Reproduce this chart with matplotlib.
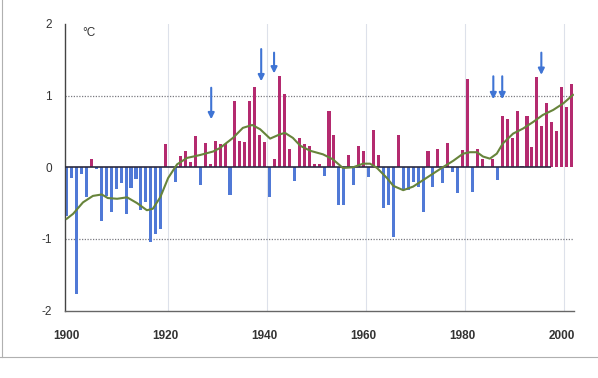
import matplotlib
matplotlib.use("Agg")
import matplotlib.pyplot as plt
from matplotlib.lines import Line2D

plt.rcParams['font.family'] = ['Liberation Sans', 'DejaVu Sans']

# ---- data -------------------------------------------------------------
years = list(range(1900, 2003))
anomaly = [
    -0.68, -0.15, -1.77, -0.10, -0.41, 0.12, -0.03, -0.75, -0.40, -0.63,
    -0.31, -0.22, -0.65, -0.29, -0.17, -0.60, -0.48, -1.05, -0.93, -0.86,
    0.33, 0.00, -0.20, 0.16, 0.22, 0.08, 0.43, -0.25, 0.34, 0.05,
    0.37, 0.32, 0.33, -0.39, 0.93, 0.37, 0.35, 0.92, 1.12, 0.45,
    0.35, -0.42, 0.12, 1.28, 1.02, 0.26, -0.19, 0.41, 0.33, 0.30,
    0.05, 0.05, -0.12, 0.79, 0.45, -0.53, -0.53, 0.17, -0.25, 0.30,
    0.23, -0.13, 0.52, 0.17, -0.57, -0.53, -0.97, 0.45, -0.32, -0.32,
    -0.20, -0.27, -0.63, 0.23, -0.27, 0.26, -0.22, 0.34, -0.06, -0.36,
    0.24, 1.23, -0.34, 0.25, 0.11, 0.00, 0.11, -0.18, 0.71, 0.67,
    0.41, 0.78, 0.02, 0.71, 0.28, 1.26, 0.58, 0.90, 0.63, 0.50,
    1.12, 0.84, 1.16,
]

trend_years = [1900, 1901.3, 1903.3, 1905.3, 1907.1, 1908.3, 1910.2, 1912.2,
               1914.2, 1916.2, 1917.4, 1918.9, 1920.5, 1922.3, 1924.3, 1926.9,
               1929.6, 1931.0, 1933.6, 1935.6, 1937.5, 1939.1, 1941.1, 1943.1,
               1944.1, 1945.7, 1947.2, 1949.2, 1951.8, 1953.8, 1955.8, 1957.9,
               1959.9, 1961.3, 1962.7, 1964.7, 1966.0, 1968.0, 1970.0, 1972.0,
               1974.0, 1976.0, 1978.1, 1980.1, 1981.5, 1982.9, 1984.1, 1985.5,
               1986.9, 1988.1, 1990.2, 1992.2, 1994.2, 1996.2, 1998.3, 2000.3,
               2002.3]
trend_vals = [-0.72, -0.65, -0.49, -0.40, -0.38, -0.43, -0.44, -0.42,
              -0.50, -0.60, -0.58, -0.42, -0.15, 0.04, 0.13, 0.17,
              0.22, 0.27, 0.41, 0.55, 0.59, 0.53, 0.40, 0.46,
              0.48, 0.41, 0.30, 0.23, 0.18, 0.11, -0.01, 0.00,
              0.05, 0.05, -0.01, -0.15, -0.26, -0.32, -0.27, -0.18,
              -0.09, 0.00, 0.09, 0.19, 0.21, 0.21, 0.15, 0.12,
              0.19, 0.33, 0.47, 0.54, 0.63, 0.73, 0.80, 0.89,
              1.01]

arrow_years = [1929.2, 1939.3, 1941.9, 1986.2, 1988.0, 1995.9]
arrow_top = [1.11, 1.65, 1.60, 1.27, 1.27, 1.60]
arrow_tip = [0.67, 1.20, 1.31, 0.95, 0.95, 1.29]

xtick_years = [1900, 1920, 1940, 1960, 1980, 2000]
xtick_labels = ['1900', '1920', '1940', '1960', '1980', '2000']
ytick_vals = [-2, -1, 0, 1, 2]
ytick_labels = ['-2', '-1', '0', '1', '2']

# ---- styling ----------------------------------------------------------
RED = '#b42a6f'
BLUE = '#5079d6'
GREEN = '#67843b'
ARROW = '#3f74d4'

W, H = 598, 378
fig = plt.figure(figsize=(W / 100, H / 100), dpi=100)
fig.patch.set_facecolor('white')

left_px, right_px, top_px, bottom_px = 65, 574, 24, 310.5
ax = fig.add_axes([left_px / W, 1 - bottom_px / H,
                   (right_px - left_px) / W, (bottom_px - top_px) / H])
ax.set_facecolor('none')
ax.set_xlim(1899.66, 2002.5)
ax.set_ylim(-2, 2)

# faint vertical grid
for yr in xtick_years[1:]:
    ax.axvline(yr + 0.5, color='#dde1ea', lw=0.8, zorder=0)

# dotted lines at +/-1
for yv in (1, -1):
    ax.axhline(yv, color='#7a7a80', lw=0.9, ls=(0, (1, 1.2)), zorder=1)

colors = [RED if v >= 0 else BLUE for v in anomaly]
ax.bar(years, anomaly, width=0.62, color=colors, zorder=2, linewidth=0)

ax.hlines(0, 1899.66, 1997.8, color='#2a2a40', lw=1.2, zorder=3)

ax.plot(trend_years, trend_vals, color=GREEN, lw=1.5, zorder=4,
        solid_joinstyle='round')

for xa, yt, yb in zip(arrow_years, arrow_top, arrow_tip):
    ax.annotate('', xy=(xa, yb), xytext=(xa, yt),
                arrowprops=dict(arrowstyle='-|>', color=ARROW, lw=1.5,
                                mutation_scale=9, shrinkA=0, shrinkB=0),
                zorder=5)

ax.text(1904.5, 1.88, '°C', fontsize=8.5, color='#333333',
        ha='center', va='center')

for s in ('top', 'right'):
    ax.spines[s].set_visible(False)
ax.spines['left'].set_color('#444444')
ax.spines['left'].set_linewidth(1.0)
ax.spines['bottom'].set_color('#666666')
ax.spines['bottom'].set_linewidth(1.0)

ax.set_xticks(xtick_years)
ax.set_xticklabels(xtick_labels, fontsize=8.5, fontweight='bold', color='#333333')
ax.set_yticks(ytick_vals)
ax.set_yticklabels(ytick_labels, fontsize=8.5, color='#333333')
ax.tick_params(axis='x', length=0, pad=14)
ax.tick_params(axis='y', length=0, pad=9.5)

# scan frame lines
fig.add_artist(Line2D([2 / W, 2 / W], [1 - 357 / H, 1], transform=fig.transFigure,
                      color='#b0b0b0', lw=0.8))
fig.add_artist(Line2D([0, 1], [1 - 357 / H, 1 - 357 / H], transform=fig.transFigure,
                      color='#b0b0b0', lw=0.8))

fig.savefig('out.png', dpi=100, facecolor='white')
